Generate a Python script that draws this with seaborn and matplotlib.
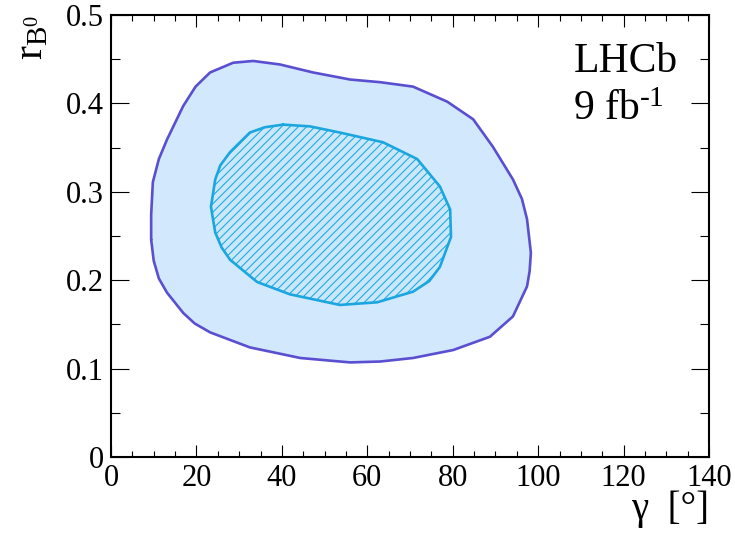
import matplotlib
matplotlib.use("Agg")
import matplotlib.pyplot as plt
import seaborn as sns
import pandas as pd
from matplotlib.ticker import FixedLocator, FixedFormatter, MultipleLocator

# ---- data: 95% (outer) and 68% (inner) contours in (gamma [deg], r_B0) ----
outer_gamma = [9.4, 9.4, 9.8, 11.2, 13.1, 16.9, 19.8, 23.2, 28.6, 33.3, 39.6, 47.3,
               56.0, 63.0, 70.7, 78.7, 84.8, 89.4, 94.1, 96.2, 97.4, 98.3, 98.0,
               97.4, 94.1, 88.7, 80.1, 70.7, 63.0, 56.0, 44.3, 32.5, 23.2, 19.6,
               16.9, 13.1, 11.2, 10.0]
outer_r = [0.246, 0.274, 0.311, 0.337, 0.359, 0.397, 0.419, 0.435, 0.446, 0.448,
           0.444, 0.435, 0.427, 0.424, 0.419, 0.402, 0.382, 0.351, 0.314, 0.292,
           0.269, 0.231, 0.210, 0.193, 0.159, 0.136, 0.121, 0.112, 0.108, 0.107,
           0.112, 0.124, 0.141, 0.151, 0.163, 0.186, 0.202, 0.222]
inner_gamma = [40.3, 36.0, 32.5, 27.9, 25.6, 24.4, 23.4, 24.4, 25.9, 27.9, 34.2,
               41.9, 53.6, 62.3, 70.7, 74.5, 77.0, 79.6, 79.4, 77.0, 71.7, 63.7,
               53.6, 46.6]
inner_r = [0.376, 0.373, 0.367, 0.345, 0.330, 0.314, 0.283, 0.254, 0.237, 0.223,
           0.198, 0.184, 0.172, 0.175, 0.187, 0.199, 0.215, 0.249, 0.280, 0.306,
           0.337, 0.356, 0.367, 0.374]

x_ticks = [0, 20, 40, 60, 80, 100, 120, 140]
x_tick_labels = ["0", "20", "40", "60", "80", "100", "120", "140"]
y_ticks = [0.0, 0.1, 0.2, 0.3, 0.4, 0.5]
y_tick_labels = ["0", "0.1", "0.2", "0.3", "0.4", "0.5"]

outer_fill = "#d2e8fc"
outer_line = "#5a4fd0"
inner_line = "#1ba6e0"
hatch_line = "#22aae6"

sns.set_theme(style="ticks")
plt.rcParams["font.family"] = ["Liberation Serif", "DejaVu Serif"]
plt.rcParams["mathtext.fontset"] = "custom"
plt.rcParams["mathtext.rm"] = "Liberation Serif"
plt.rcParams["mathtext.it"] = "Liberation Serif:italic"
plt.rcParams["hatch.linewidth"] = 0.8
plt.rcParams["hatch.color"] = hatch_line
plt.rcParams["text.color"] = "black"
plt.rcParams["axes.labelcolor"] = "black"

fig = plt.figure(figsize=(7.35, 5.35), dpi=100)
ax = fig.add_axes([111 / 735, 78 / 535, 598 / 735, 442 / 535])

# outer contour
ax.fill(outer_gamma, outer_r, facecolor=outer_fill, edgecolor="none", lw=0)
df_out = pd.DataFrame({"gamma": outer_gamma + outer_gamma[:1], "r": outer_r + outer_r[:1]})
sns.lineplot(data=df_out, x="gamma", y="r", sort=False, estimator=None, errorbar=None,
             color=outer_line, lw=1.9, ax=ax, solid_joinstyle="round")

# inner contour (hatched)
ax.fill(inner_gamma, inner_r, facecolor="#cbe8fb", edgecolor=hatch_line, hatch="////", lw=0)
df_in = pd.DataFrame({"gamma": inner_gamma + inner_gamma[:1], "r": inner_r + inner_r[:1]})
sns.lineplot(data=df_in, x="gamma", y="r", sort=False, estimator=None, errorbar=None,
             color=inner_line, lw=1.9, ax=ax, solid_joinstyle="round")

ax.set_xlim(0, 140)
ax.set_ylim(0, 0.5)
ax.xaxis.set_major_locator(FixedLocator(x_ticks))
ax.xaxis.set_major_formatter(FixedFormatter(x_tick_labels))
ax.xaxis.set_minor_locator(MultipleLocator(5))
ax.yaxis.set_major_locator(FixedLocator(y_ticks))
ax.yaxis.set_major_formatter(FixedFormatter(y_tick_labels))
ax.yaxis.set_minor_locator(MultipleLocator(0.05))

for s in ax.spines.values():
    s.set_linewidth(1.5)
    s.set_color("black")
ax.tick_params(axis="both", which="both", direction="in", top=True, right=True,
               colors="black", labelcolor="black", labelsize=22, width=0.8)
ax.tick_params(axis="x", which="major", length=8.6, pad=5)
ax.tick_params(axis="x", which="minor", length=4.3)
ax.tick_params(axis="y", which="major", length=13, pad=5)
ax.tick_params(axis="y", which="minor", length=6.5)

ax.set_xlabel("γ  [°]", fontsize=28, loc="right", color="black")
ax.xaxis.set_label_coords(1.0, -0.075)
ax.set_ylabel(r"$\mathrm{r}_{\mathrm{B}^{0}}$", fontsize=30, loc="top", color="black")
ax.yaxis.set_label_coords(-0.1, 1.0)

ax.text(0.773, 0.871, "LHCb", transform=ax.transAxes, fontsize=30, va="baseline",
        ha="left", color="black")
ax.text(0.773, 0.762, r"9 fb$^{\text{-1}}$", transform=ax.transAxes, fontsize=30,
        va="baseline", ha="left", color="black")

fig.savefig("out.png", dpi=100)
